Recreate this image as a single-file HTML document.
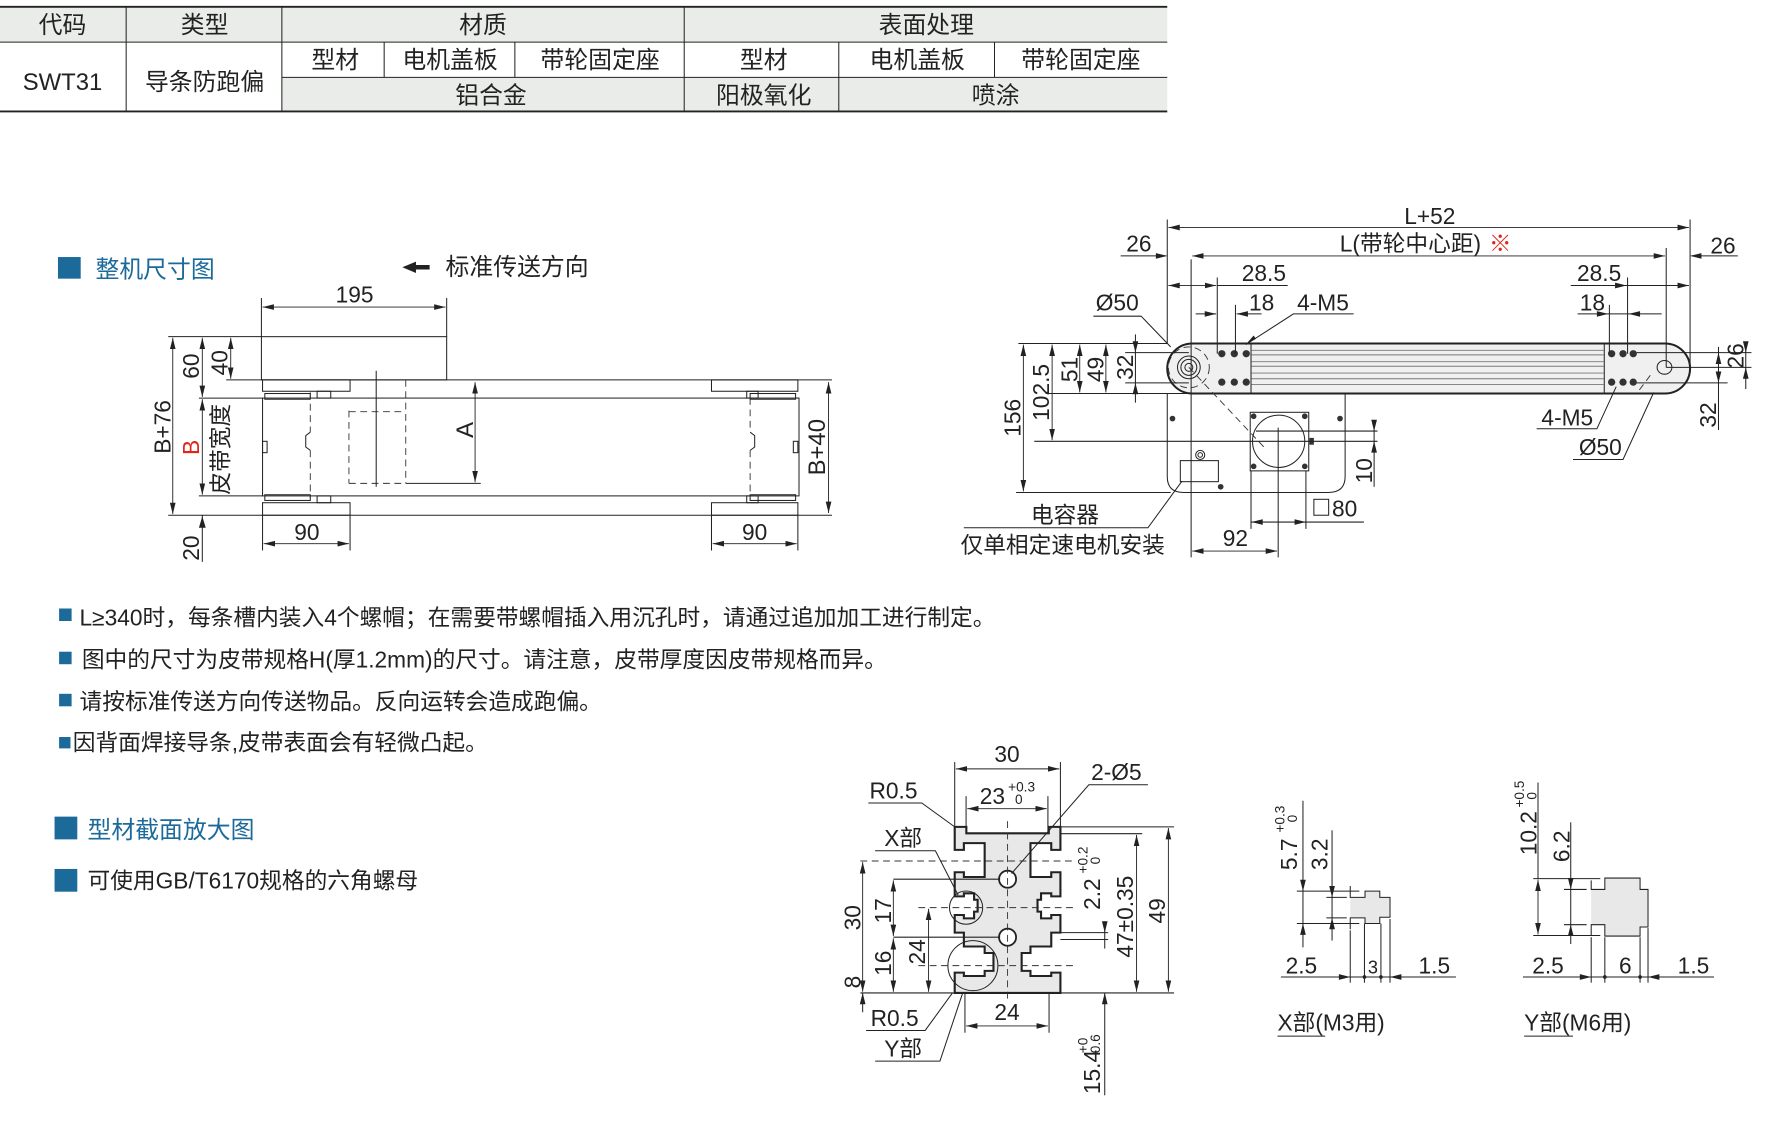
<!DOCTYPE html>
<html><head><meta charset="utf-8">
<style>
html,body{margin:0;padding:0;background:#fff;}
svg{display:block;}
text{font-family:"Liberation Sans","Noto Sans CJK SC",sans-serif;fill:#222;}
.l{stroke:#222;stroke-width:0.9;fill:none;}
.t{stroke:#222;stroke-width:1.6;}
.d{stroke:#333;stroke-width:0.8;fill:none;stroke-dasharray:6 4;}
.a{stroke:#222;stroke-width:0.8;fill:none;marker-start:url(#ar);marker-end:url(#ar);}
.a1{stroke:#222;stroke-width:0.8;fill:none;marker-end:url(#ar);}
</style></head><body>
<svg width="1781" height="1126" viewBox="0 0 1567 990" preserveAspectRatio="none" xmlns="http://www.w3.org/2000/svg">
<defs>
<marker id="ar" markerWidth="10" markerHeight="6" refX="10" refY="3" orient="auto-start-reverse" markerUnits="userSpaceOnUse"><path d="M0,0.5 L10,3 L0,5.5 Z" fill="#222"/></marker>
</defs>

<!-- TABLE -->
<rect x="0" y="6" width="1027" height="31" fill="#e9ece9"/>
<rect x="248" y="68" width="779" height="30" fill="#e9ece9"/>
<line x1="0" y1="6" x2="1027" y2="6" class="t"/>
<line x1="0" y1="98" x2="1027" y2="98" class="t"/>
<line x1="0" y1="37" x2="1027" y2="37" class="l"/>
<line x1="248" y1="68" x2="1027" y2="68" class="l"/>
<line x1="111" y1="6" x2="111" y2="98" class="l"/>
<line x1="248" y1="6" x2="248" y2="98" class="l"/>
<line x1="602" y1="6" x2="602" y2="98" class="l"/>
<line x1="338" y1="37" x2="338" y2="68" class="l"/>
<line x1="453" y1="37" x2="453" y2="68" class="l"/>
<line x1="738" y1="37" x2="738" y2="98" class="l"/>
<line x1="875" y1="37" x2="875" y2="68" class="l"/>
<g font-size="21" text-anchor="middle">
<text x="55" y="29">代码</text><text x="180" y="29">类型</text><text x="425" y="29">材质</text><text x="815" y="29">表面处理</text>
<text x="55" y="79">SWT31</text><text x="180" y="79">导条防跑偏</text>
<text x="295" y="60">型材</text><text x="396" y="60">电机盖板</text><text x="528" y="60">带轮固定座</text>
<text x="672" y="60">型材</text><text x="807" y="60">电机盖板</text><text x="951" y="60">带轮固定座</text>
<text x="432" y="91">铝合金</text><text x="672" y="91">阳极氧化</text><text x="876" y="91">喷涂</text>
</g>

<!-- Section titles -->
<rect x="51" y="226" width="20" height="19" fill="#1b6a99"/>
<text x="84" y="244" font-size="21" style="fill:#1b6a99">整机尺寸图</text>
<path d="M354,235 L366,230 L366,233 L378,233 L378,237 L366,237 L366,240 Z" fill="#222"/>
<text x="392" y="242" font-size="21">标准传送方向</text>

<!-- LEFT DRAWING -->
<rect x="230" y="296" width="163" height="38" fill="#efefef" class="l"/>
<rect x="231" y="350" width="472" height="86" fill="#f0f0f0" class="l"/>
<rect x="231" y="334" width="77" height="10" fill="#efefef" class="l"/>
<rect x="626" y="334" width="76" height="10" fill="#efefef" class="l"/>
<rect x="231" y="442" width="77" height="11" fill="#efefef" class="l"/>
<rect x="626" y="442" width="76" height="11" fill="#efefef" class="l"/>
<rect x="233" y="346" width="40" height="5" fill="#efefef" class="l"/>
<rect x="233" y="435" width="40" height="5" fill="#efefef" class="l"/>
<rect x="660" y="346" width="40" height="5" fill="#efefef" class="l"/>
<rect x="660" y="435" width="40" height="5" fill="#efefef" class="l"/>
<rect x="279" y="344" width="12" height="6" class="l"/><rect x="279" y="436" width="12" height="6" class="l"/>
<rect x="657" y="344" width="10" height="6" class="l"/><rect x="657" y="436" width="10" height="6" class="l"/>
<rect x="231" y="388" width="4" height="10" class="l"/><rect x="698" y="388" width="4" height="10" class="l"/>
<line x1="199" y1="334" x2="732" y2="334" class="l"/>
<line x1="148" y1="453" x2="732" y2="453" class="l"/>
<line x1="175" y1="350" x2="231" y2="350" class="l"/>
<line x1="175" y1="436" x2="231" y2="436" class="l"/>
<line x1="148" y1="296" x2="230" y2="296" class="l"/>
<line class="d" x1="273" y1="345" x2="273" y2="380"/><path class="l" d="M273,380 l-4,3 v10 l4,3"/><line class="d" x1="273" y1="396" x2="273" y2="438"/>
<line class="d" x1="660" y1="350" x2="660" y2="380"/><path class="l" d="M660,380 l4,3 v10 l-4,3"/><line class="d" x1="660" y1="396" x2="660" y2="436"/>
<line class="d" x1="307" y1="361" x2="307" y2="425"/>
<line class="d" x1="357" y1="334" x2="357" y2="425"/>
<line class="d" x1="307" y1="362" x2="357" y2="362"/>
<line class="d" x1="307" y1="425" x2="357" y2="425"/>
<line class="l" x1="331" y1="326" x2="331" y2="428"/>
<line class="l" x1="357" y1="425" x2="423" y2="425"/>
<line class="a" x1="418" y1="336" x2="418" y2="424"/>
<text x="0" y="0" font-size="21" transform="translate(416,385) rotate(-90)">A</text>
<line class="a" x1="729" y1="336" x2="729" y2="451"/>
<text font-size="21" transform="translate(726,418) rotate(-90)">B+40</text>
<line class="l" x1="230" y1="262" x2="230" y2="296"/><line class="l" x1="393" y1="262" x2="393" y2="296"/>
<line class="a" x1="231" y1="270" x2="392" y2="270"/>
<text x="312" y="266" font-size="20" text-anchor="middle">195</text>
<line class="a" x1="152" y1="297" x2="152" y2="452"/>
<text font-size="20" transform="translate(150,399) rotate(-90)">B+76</text>
<line class="a" x1="178" y1="297" x2="178" y2="349"/>
<text font-size="20" transform="translate(175,333) rotate(-90)">60</text>
<line class="a" x1="203" y1="297" x2="203" y2="333"/>
<text font-size="20" transform="translate(200,330) rotate(-90)">40</text>
<line class="a" x1="178" y1="351" x2="178" y2="435"/>
<text font-size="20" transform="translate(175,400) rotate(-90)" style="fill:#e0261b">B</text>
<text font-size="20" transform="translate(201,435) rotate(-90)">皮带宽度</text>
<line class="l" x1="178" y1="453" x2="178" y2="494"/><path d="M178,454 l-3,10 h6 z" fill="#222"/>
<text font-size="20" transform="translate(175,493) rotate(-90)">20</text>
<line class="l" x1="231" y1="453" x2="231" y2="484"/><line class="l" x1="308" y1="453" x2="308" y2="484"/>
<line class="a" x1="232" y1="478" x2="307" y2="478"/><text x="270" y="475" font-size="20" text-anchor="middle">90</text>
<line class="l" x1="626" y1="453" x2="626" y2="484"/><line class="l" x1="702" y1="453" x2="702" y2="484"/>
<line class="a" x1="627" y1="478" x2="701" y2="478"/><text x="664" y="475" font-size="20" text-anchor="middle">90</text>

<!-- RIGHT DRAWING -->
<path d="M1027,346 H1183.5 V419 Q1183.5,433 1169,433 H1041 Q1027,433 1027,419 Z" fill="#f0f0f0" class="l" stroke-width="1.5"/>
<path d="M1049,302 H1465 A22,22 0 0 1 1465,346 H1049 A22,22 0 0 1 1049,302 Z" fill="#f0f0f0" stroke="#222" stroke-width="1.8"/>
<line class="l" x1="1100.7" y1="302" x2="1100.7" y2="346"/>
<line class="l" x1="1411.5" y1="302" x2="1411.5" y2="346"/>
<g stroke="#777" stroke-width="0.8">
<line x1="1101" y1="308" x2="1411" y2="308"/><line x1="1101" y1="312" x2="1411" y2="312"/>
<line x1="1101" y1="318" x2="1411" y2="318"/><line x1="1101" y1="322" x2="1411" y2="322"/>
<line x1="1101" y1="328" x2="1411" y2="328"/><line x1="1101" y1="333" x2="1411" y2="333"/>
<line x1="1101" y1="338" x2="1411" y2="338"/>
</g>
<g fill="#333">
<circle cx="1075" cy="311" r="3.2"/><circle cx="1086" cy="311" r="3.2"/><circle cx="1096.5" cy="311" r="3.2"/>
<circle cx="1075" cy="336" r="3.2"/><circle cx="1086" cy="336" r="3.2"/><circle cx="1096.5" cy="336" r="3.2"/>
<circle cx="1418" cy="311" r="3.2"/><circle cx="1428" cy="311" r="3.2"/><circle cx="1437" cy="311" r="3.2"/>
<circle cx="1418" cy="336" r="3.2"/><circle cx="1428" cy="336" r="3.2"/><circle cx="1437" cy="336" r="3.2"/>
<circle cx="1031.6" cy="368" r="2.5"/><circle cx="1179" cy="368" r="2.5"/><circle cx="1074" cy="428" r="2.5"/>
</g>
<circle cx="1046" cy="323" r="18" class="d"/>
<circle cx="1046" cy="323" r="10" class="l"/><circle cx="1046" cy="323" r="7" class="l"/><circle cx="1046" cy="323" r="3.5" class="l"/>
<ellipse cx="1464.5" cy="323" rx="6.5" ry="6" class="l" stroke-width="1.5"/>
<line class="d" x1="1046" y1="323" x2="1112" y2="393"/>
<line class="d" x1="1452" y1="330" x2="1440" y2="346"/>
<rect x="1100" y="362.5" width="51.5" height="51.5" class="l"/>
<circle cx="1125" cy="388" r="23" class="l"/>
<circle cx="1103" cy="366" r="2.5" fill="#333"/><circle cx="1148" cy="366" r="2.5" fill="#333"/><circle cx="1103" cy="410" r="2.5" fill="#333"/><circle cx="1148" cy="410" r="2.5" fill="#333"/>
<rect x="1152" y="385" width="4" height="6" fill="#333"/>
<rect x="1038.5" y="405" width="33.5" height="18.5" fill="#f6f6f6" class="l"/>
<circle cx="1056" cy="400" r="4" class="l"/><circle cx="1056" cy="400" r="2" class="l"/>
<line class="l" x1="1048" y1="228" x2="1048" y2="490"/>
<line class="l" x1="1124.6" y1="376" x2="1124.6" y2="490"/>
<line class="l" x1="1100.7" y1="414" x2="1100.7" y2="465"/>
<line class="l" x1="1149" y1="414" x2="1149" y2="465"/>
<line class="l" x1="1105" y1="379" x2="1212" y2="379"/>
<line class="l" x1="1105" y1="388" x2="1212" y2="388"/>
<!-- top dims -->
<line class="l" x1="1027" y1="193" x2="1027" y2="302"/><line class="l" x1="1487" y1="193" x2="1487" y2="323"/>
<line class="l" x1="1466" y1="218" x2="1466" y2="323"/>
<line class="a" x1="1028" y1="200" x2="1486" y2="200"/>
<text x="1258" y="197" font-size="20" text-anchor="middle">L+52</text>
<line class="a" x1="1049" y1="225" x2="1465" y2="225"/>
<text x="1241" y="221" font-size="20" text-anchor="middle">L(带轮中心距)</text>
<text x="1320" y="221" font-size="20" text-anchor="middle" style="fill:#e0261b">※</text>
<line class="l" x1="986" y1="225" x2="1026" y2="225"/><path d="M1027,225 l-10,-2.5 v5 z" fill="#222"/>
<text x="1002" y="221" font-size="20" text-anchor="middle">26</text>
<line class="l" x1="1488" y1="225" x2="1529" y2="225"/><path d="M1487,225 l10,-2.5 v5 z" fill="#222"/>
<text x="1516" y="223" font-size="20" text-anchor="middle">26</text>
<line class="l" x1="1071" y1="244" x2="1071" y2="311"/><line class="l" x1="1087" y1="268" x2="1087" y2="311"/>
<line class="a" x1="1028" y1="251" x2="1070" y2="251"/><line class="l" x1="1071" y1="251" x2="1133" y2="251"/>
<text x="1112" y="247" font-size="20" text-anchor="middle">28.5</text>
<line class="l" x1="1052" y1="276" x2="1070" y2="276"/><path d="M1070,276 l-10,-2.5 v5 z" fill="#222"/>
<line class="l" x1="1088" y1="276" x2="1110" y2="276"/><path d="M1088,276 l10,-2.5 v5 z" fill="#222"/>
<text x="1110" y="273" font-size="20" text-anchor="middle">18</text>
<text x="1164" y="273" font-size="20" text-anchor="middle">4-M5</text>
<polyline class="l" points="1191,276 1138,276 1096,303"/><path d="M1096,303 l7,-8 l2,3 z" fill="#222"/>
<text x="983" y="273" font-size="20" text-anchor="middle">Ø50</text>
<polyline class="l" points="962,278 1004,278 1030,305"/>
<line class="l" x1="1432" y1="244" x2="1432" y2="311"/><line class="l" x1="1416" y1="268" x2="1416" y2="311"/>
<line class="l" x1="1382" y1="251" x2="1486" y2="251"/><path d="M1431,251 l-10,-2.5 v5 z" fill="#222"/><path d="M1486,251 l-10,-2.5 v5 z" fill="#222"/>
<text x="1407" y="247" font-size="20" text-anchor="middle">28.5</text>
<line class="l" x1="1388" y1="276" x2="1462" y2="276"/><path d="M1415,276 l-10,-2.5 v5 z" fill="#222"/><path d="M1433,276 l10,-2.5 v5 z" fill="#222"/>
<text x="1401" y="273" font-size="20" text-anchor="middle">18</text>
<!-- left vertical dims -->
<line class="l" x1="896" y1="302" x2="1027" y2="302"/>
<line class="l" x1="920" y1="346" x2="1027" y2="346"/>
<line class="l" x1="910" y1="388" x2="1105" y2="388"/>
<line class="l" x1="894" y1="433" x2="1030" y2="433"/>
<line class="l" x1="990" y1="310" x2="1046" y2="310"/><line class="l" x1="990" y1="336.6" x2="1046" y2="336.6"/>
<line class="a" x1="900.4" y1="303" x2="900.4" y2="432"/>
<text font-size="20" transform="translate(898,384) rotate(-90)">156</text>
<line class="a" x1="925.7" y1="303" x2="925.7" y2="387"/>
<text font-size="20" transform="translate(923,370) rotate(-90)">102.5</text>
<line class="a" x1="950" y1="303" x2="950" y2="345"/>
<text font-size="20" transform="translate(948,336) rotate(-90)">51</text>
<line class="a" x1="973" y1="303" x2="973" y2="345"/>
<text font-size="20" transform="translate(971,336) rotate(-90)">49</text>
<line class="l" x1="999" y1="294" x2="999" y2="354"/><path d="M999,310 l-2.5,-10 h5 z" fill="#222"/><path d="M999,336.6 l-2.5,10 h5 z" fill="#222"/>
<text font-size="20" transform="translate(997,334) rotate(-90)">32</text>
<!-- 10, 80, 92 -->
<line class="l" x1="1209" y1="370" x2="1209" y2="428"/><path d="M1209,379 l-2.5,-10 h5 z" fill="#222"/><path d="M1209,388 l-2.5,10 h5 z" fill="#222"/>
<text font-size="20" transform="translate(1207,425) rotate(-90)">10</text>
<line class="l" x1="1101" y1="459" x2="1150" y2="459"/><path d="M1101,459 l10,-2.5 v5 z" fill="#222"/><path d="M1149,459 l-10,-2.5 v5 z" fill="#222"/>
<line class="l" x1="1150" y1="459" x2="1200" y2="459"/>
<rect x="1156" y="439" width="13" height="14" fill="none" stroke="#222" stroke-width="0.9"/>
<text x="1172" y="454" font-size="20">80</text>
<line class="a" x1="1049" y1="484.5" x2="1123.6" y2="484.5"/>
<text x="1087" y="480" font-size="20" text-anchor="middle">92</text>
<text x="937" y="460" font-size="20" text-anchor="middle">电容器</text>
<text x="935" y="486" font-size="20" text-anchor="middle">仅单相定速电机安装</text>
<polyline class="l" points="848,464 1010,464 1040,423"/>
<!-- right vertical dims -->
<line class="l" x1="1440" y1="310" x2="1541" y2="310"/><line class="l" x1="1466" y1="323" x2="1541" y2="323"/><line class="l" x1="1440" y1="336.6" x2="1520" y2="336.6"/>
<line class="l" x1="1536" y1="303" x2="1536" y2="342"/><path d="M1536,310 l-2.5,-10 h5 z" fill="#222"/><path d="M1536,323 l-2.5,10 h5 z" fill="#222"/>
<text font-size="20" transform="translate(1534,324) rotate(-90)">26</text>
<line class="l" x1="1512" y1="305" x2="1512" y2="378"/><path d="M1512,310 l-2.5,10 h5 z" fill="#222"/><path d="M1512,336.6 l-2.5,-10 h5 z" fill="#222"/>
<text font-size="20" transform="translate(1510,376) rotate(-90)">32</text>
<text x="1379" y="374" font-size="20" text-anchor="middle">4-M5</text>
<polyline class="l" points="1352,377 1405,377 1422,340"/>
<text x="1408" y="400" font-size="20" text-anchor="middle">Ø50</text>
<polyline class="l" points="1384,404 1428,404 1455,345"/>

<!-- NOTES -->
<g font-size="20">
<rect x="52" y="535" width="11" height="11" fill="#1b6a99"/><text x="70" y="550">L≥340时，每条槽内装入4个螺帽；在需要带螺帽插入用沉孔时，请通过追加加工进行制定。</text>
<rect x="52" y="573" width="11" height="11" fill="#1b6a99"/><text x="72" y="587">图中的尺寸为皮带规格H(厚1.2mm)的尺寸。请注意，皮带厚度因皮带规格而异。</text>
<rect x="52" y="610" width="11" height="11" fill="#1b6a99"/><text x="70" y="624">请按标准传送方向传送物品。反向运转会造成跑偏。</text>
<rect x="52" y="648" width="10" height="10" fill="#1b6a99"/><text x="64" y="660">因背面焊接导条,皮带表面会有轻微凸起。</text>
</g>
<rect x="48" y="718" width="20" height="20" fill="#1b6a99"/>
<text x="77" y="737" font-size="21" style="fill:#1b6a99">型材截面放大图</text>
<rect x="48" y="764" width="20" height="20" fill="#1b6a99"/>
<text x="77" y="781" font-size="20">可使用GB/T6170规格的六角螺母</text>

<!-- PROFILE SECTION -->
<g transform="translate(840,727) scale(3.1,2.98)">
<path fill="#e8e8e8" stroke="#222" stroke-width="0.6" stroke-linejoin="miter" d="
M0,0 H3.3 V1.9 H26.7 V0 H30 V6.8 H27.4 V4.8 H21.5 V14.8 H27.4 V13.4 H30 V20.5 H27.4 V19.6 H24.5 V21.5 H23.5 V25 H24.5 V27 H27.4 V26 H30 V31.2 H27.4 V35.3 H21.5 V37.2 H19 V42.5 H21.5 V44 H27.4 V43 H30 V49 H0 V43 H2.6 V44 H8.5 V42.5 H11 V37.2 H8.5 V35.3 H2.6 V31.2 H0 V26 H2.6 V27 H5.5 V25 H6.5 V21.5 H5.5 V19.6 H2.6 V20.5 H0 V13.4 H2.6 V14.8 H8.5 V4.8 H2.6 V6.8 H0 Z"/>
</g>
<circle cx="886.5" cy="773" r="7.5" fill="#fff" stroke="#222" stroke-width="1.6"/>
<circle cx="886.5" cy="824" r="7.5" fill="#fff" stroke="#222" stroke-width="1.6"/>
<circle cx="850" cy="798" r="14.6" class="l"/>
<circle cx="856" cy="849" r="22" class="l"/>
<g class="d" stroke-dasharray="8 4">
<line x1="886.5" y1="722" x2="886.5" y2="880"/>
<line x1="757" y1="757" x2="945" y2="757"/>
<line x1="808" y1="798" x2="945" y2="798"/>
<line x1="808" y1="849" x2="945" y2="849"/>
</g>
<line class="l" x1="840" y1="670" x2="840" y2="727"/><line class="l" x1="933" y1="670" x2="933" y2="727"/>
<line class="a" x1="841" y1="676" x2="932" y2="676"/>
<text x="886" y="670" font-size="20" text-anchor="middle">30</text>
<line class="l" x1="850" y1="700" x2="850" y2="733"/><line class="l" x1="922" y1="700" x2="922" y2="733"/>
<line class="a" x1="851" y1="711" x2="921" y2="711"/>
<text x="862" y="707" font-size="20">23</text><text x="887" y="696" font-size="12">+0.3</text><text x="893" y="707" font-size="12">0</text>
<text x="765" y="702" font-size="20">R0.5</text>
<polyline class="l" points="764,706 811,706 840,727"/>
<text x="960" y="686" font-size="20">2-Ø5</text>
<polyline class="l" points="1010,690 958,690 890,768"/>
<text x="778" y="744" font-size="20">X部</text>
<polyline class="l" points="770,748 823,748 843,787"/>
<text x="766" y="902" font-size="20">R0.5</text>
<polyline class="l" points="762,906 814,906 838,873"/>
<text x="778" y="929" font-size="20">Y部</text>
<polyline class="l" points="770,933 827,933 847,873"/>
<line class="l" x1="924" y1="727" x2="1033" y2="727"/><line class="l" x1="933" y1="733" x2="1005" y2="733"/>
<line class="l" x1="757" y1="873" x2="1033" y2="873"/>
<line class="l" x1="786" y1="773" x2="880" y2="773"/><line class="l" x1="786" y1="824" x2="880" y2="824"/>
<line class="l" x1="933" y1="820" x2="975" y2="820"/><line class="l" x1="933" y1="826" x2="975" y2="826"/>
<line class="a" x1="1028" y1="728" x2="1028" y2="872"/>
<text font-size="20" transform="translate(1025,812) rotate(-90)">49</text>
<line class="a" x1="1000" y1="734" x2="1000" y2="872"/>
<text font-size="20" transform="translate(997,842) rotate(-90)">47±0.35</text>
<line class="l" x1="972" y1="810" x2="972" y2="834"/><path d="M972,820 l-2.5,-10 h5 z" fill="#222"/>
<line class="l" x1="972" y1="873" x2="972" y2="963"/><path d="M972,873 l-2.5,10 h5 z" fill="#222"/>
<text font-size="20" transform="translate(968,800) rotate(-90)">2.2</text>
<text font-size="12" transform="translate(957,768) rotate(-90)">+0.2</text>
<text font-size="12" transform="translate(968,760) rotate(-90)">0</text>
<text font-size="20" transform="translate(968,962) rotate(-90)">15.4</text>
<text font-size="12" transform="translate(957,926) rotate(-90)">+0</text>
<text font-size="12" transform="translate(968,926) rotate(-90)">0.6</text>
<line class="a" x1="759" y1="758" x2="759" y2="872"/>
<text font-size="20" transform="translate(757,818) rotate(-90)">30</text>
<line class="l" x1="759" y1="873" x2="759" y2="890"/><path d="M759,873 l-2.5,10 h5 z" fill="#222"/>
<text font-size="20" transform="translate(757,869) rotate(-90)">8</text>
<line class="a" x1="786" y1="774" x2="786" y2="823"/>
<text font-size="20" transform="translate(784,812) rotate(-90)">17</text>
<line class="a" x1="786" y1="825" x2="786" y2="872"/>
<text font-size="20" transform="translate(784,858) rotate(-90)">16</text>
<line class="a" x1="817" y1="799" x2="817" y2="872"/>
<text font-size="20" transform="translate(814,848) rotate(-90)">24</text>
<line class="l" x1="849" y1="873" x2="849" y2="908"/><line class="l" x1="923" y1="873" x2="923" y2="908"/>
<line class="a" x1="850" y1="902" x2="922" y2="902"/>
<text x="886" y="897" font-size="20" text-anchor="middle">24</text>

<!-- X DETAIL -->
<path fill="#e8e8e8" stroke="none" d="M1188,789 H1201 V783.5 H1214 V789 H1223 V806.5 H1214 V812 H1201 V807 H1188 Z"/>
<polyline class="l" stroke-width="1.5" points="1188,779 1188,789 1201,789 1201,783.5 1214,783.5 1214,789 1223,789 1223,806.5 1214,806.5 1214,812 1201,812 1201,807 1188,807 1188,817"/>
<line class="l" x1="1141" y1="783.5" x2="1196" y2="783.5"/><line class="l" x1="1141" y1="812" x2="1196" y2="812"/>
<line class="l" x1="1167" y1="789" x2="1185" y2="789"/><line class="l" x1="1167" y1="807" x2="1185" y2="807"/>
<line class="l" x1="1146.4" y1="704" x2="1146.4" y2="833"/><path d="M1146.4,783.5 l-2.5,-10 h5 z" fill="#222"/><path d="M1146.4,812 l-2.5,10 h5 z" fill="#222"/>
<line class="l" x1="1172" y1="730" x2="1172" y2="827"/><path d="M1172,789 l-2.5,-10 h5 z" fill="#222"/><path d="M1172,807 l-2.5,10 h5 z" fill="#222"/>
<text font-size="20" transform="translate(1141,765) rotate(-90)">5.7</text>
<text font-size="12" transform="translate(1130,732) rotate(-90)">+0.3</text>
<text font-size="12" transform="translate(1141,723) rotate(-90)">0</text>
<text font-size="20" transform="translate(1168,765) rotate(-90)">3.2</text>
<line class="l" x1="1127" y1="859" x2="1281" y2="859"/>
<path d="M1188,859 l-10,-2.5 v5 z" fill="#222"/><path d="M1223,859 l10,-2.5 v5 z" fill="#222"/>
<line class="l" x1="1188" y1="818" x2="1188" y2="864"/><line class="l" x1="1200.5" y1="812" x2="1200.5" y2="864"/>
<line class="l" x1="1215" y1="812" x2="1215" y2="864"/><line class="l" x1="1223" y1="808" x2="1223" y2="864"/>
<circle cx="1200.5" cy="859" r="1.6" fill="#222"/><circle cx="1215" cy="859" r="1.6" fill="#222"/>
<text x="1145" y="856" font-size="20" text-anchor="middle">2.5</text>
<text x="1208" y="856" font-size="16" text-anchor="middle">3</text>
<text x="1262" y="856" font-size="20" text-anchor="middle">1.5</text>
<text x="1124" y="906" font-size="20">X部(M3用)</text>
<line class="l" x1="1124" y1="911" x2="1166" y2="911"/>

<!-- Y DETAIL -->
<path fill="#e8e8e8" stroke="none" d="M1400,782 H1412 V772 H1443 V782 H1450 V815 H1443 V823 H1412 V813 H1400 Z"/>
<polyline class="l" stroke-width="1.5" points="1400,774 1400,782 1412,782 1412,772 1443,772 1443,782 1450,782 1450,815 1443,815 1443,823 1412,823 1412,813 1400,813 1400,823"/>
<line class="l" x1="1349" y1="772.5" x2="1408" y2="772.5"/><line class="l" x1="1349" y1="822.5" x2="1408" y2="822.5"/>
<line class="l" x1="1376" y1="782" x2="1396" y2="782"/><line class="l" x1="1376" y1="813" x2="1396" y2="813"/>
<line class="a" x1="1353.2" y1="773.5" x2="1353.2" y2="821.5"/><line class="l" x1="1353.2" y1="688" x2="1353.2" y2="773"/>
<line class="l" x1="1382" y1="723" x2="1382" y2="830"/><path d="M1382,782 l-2.5,-10 h5 z" fill="#222"/><path d="M1382,813 l-2.5,10 h5 z" fill="#222"/>
<text font-size="20" transform="translate(1352,752) rotate(-90)">10.2</text>
<text font-size="12" transform="translate(1341,710) rotate(-90)">+0.5</text>
<text font-size="12" transform="translate(1352,703) rotate(-90)">0</text>
<text font-size="20" transform="translate(1381,758) rotate(-90)">6.2</text>
<line class="l" x1="1340" y1="859" x2="1508" y2="859"/>
<path d="M1400,859 l-10,-2.5 v5 z" fill="#222"/><path d="M1450,859 l10,-2.5 v5 z" fill="#222"/>
<line class="l" x1="1400" y1="824" x2="1400" y2="864"/><line class="l" x1="1412" y1="824" x2="1412" y2="864"/>
<line class="l" x1="1443" y1="824" x2="1443" y2="864"/><line class="l" x1="1450" y1="816" x2="1450" y2="864"/>
<circle cx="1412" cy="859" r="1.6" fill="#222"/><circle cx="1443" cy="859" r="1.6" fill="#222"/>
<text x="1362" y="856" font-size="20" text-anchor="middle">2.5</text>
<text x="1430" y="856" font-size="20" text-anchor="middle">6</text>
<text x="1490" y="856" font-size="20" text-anchor="middle">1.5</text>
<text x="1341" y="906" font-size="20">Y部(M6用)</text>
<line class="l" x1="1341" y1="911" x2="1384" y2="911"/>
</svg>
</body></html>
